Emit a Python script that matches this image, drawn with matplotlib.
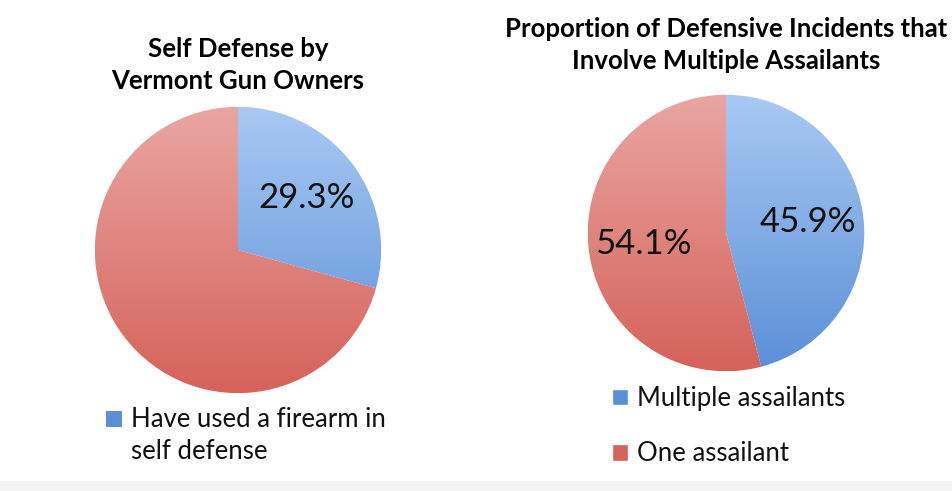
import numpy as np
import matplotlib
matplotlib.use("Agg")
from matplotlib import pyplot as plt
from matplotlib.colors import LinearSegmentedColormap
from matplotlib.patches import Rectangle
from matplotlib.legend_handler import HandlerPatch

plt.rcParams['font.family'] = ['Lato', 'DejaVu Sans']

# data
left_title = "Self Defense by\nVermont Gun Owners"
left_labels = ["Have used a firearm in\nself defense", "Have not"]
left_values = [29.3, 70.7]

right_title = "Proportion of Defensive Incidents that\nInvolve Multiple Assailants"
right_labels = ["Multiple assailants", "One assailant"]
right_values = [45.9, 54.1]

# colours (top of pie -> bottom of pie)
blue_top, blue_bot = "#a9c9f3", "#5a8fd7"
red_top, red_bot = "#eaa6a2", "#d5625b"

LEG_FS = 18.5
TITLE_FS = 18.5

fig = plt.figure(figsize=(9.53, 4.91), dpi=100)
fig.patches.append(Rectangle((0, 0), 1, 10 / 491, transform=fig.transFigure,
                             facecolor="#f3f3f3", edgecolor="none", zorder=0))


def gradient_pie(ax, values, show_pct):
    wedges, texts, autotexts = ax.pie(
        values, startangle=90, counterclock=False,
        colors=[blue_bot, red_bot], autopct="%.1f%%", pctdistance=0.6,
        wedgeprops=dict(edgecolor="white", linewidth=1.0),
        textprops=dict(fontsize=25, color="#111111"))
    grad = np.linspace(0, 1, 256).reshape(-1, 1)[::-1]
    for w, (c1, c2) in zip(wedges, [(blue_bot, blue_top), (red_bot, red_top)]):
        cmap = LinearSegmentedColormap.from_list("g", [c1, c2])
        im = ax.imshow(grad, cmap=cmap, extent=(-1, 1, -1, 1),
                       aspect="auto", zorder=w.get_zorder() + 0.1, origin="upper")
        im.set_clip_path(w)
    for t, show in zip(autotexts, show_pct):
        t.set_zorder(5)
        t.set_visible(show)
    ax.set_xlim(-1.02, 1.02)
    ax.set_ylim(-1.02, 1.02)
    ax.set_aspect("equal")
    ax.axis("off")
    return wedges


class TopPatch(HandlerPatch):
    # put the square next to the first line of a two-line label
    def create_artists(self, legend, orig_handle, xdescent, ydescent,
                       width, height, fontsize, trans):
        shift = 1.35 * fontsize / 2
        p = Rectangle((-xdescent, -ydescent + shift), width, height,
                      facecolor=orig_handle.get_facecolor(), edgecolor="none",
                      transform=trans)
        return [p]


# left pie
ax1 = fig.add_axes([92 / 953, (491 - 396) / 491, 292 / 953, 292 / 491])
w1 = gradient_pie(ax1, left_values, [True, False])
fig.text(238 / 953, 1 - 65 / 491, left_title, ha="center", va="center",
         fontsize=TITLE_FS, fontweight="bold", linespacing=1.4, color="black")
leg1 = fig.legend([w1[0]], [left_labels[0]], loc="upper left",
                  bbox_to_anchor=(83 / 953, 1 - 384 / 491), frameon=False,
                  fontsize=LEG_FS, handlelength=0.6, handleheight=0.6,
                  handletextpad=0.35, handler_map={w1[0]: TopPatch()})
for t in leg1.get_texts():
    t.set_linespacing(1.35)
    t.set_color("#111111")

# right pie
ax2 = fig.add_axes([585 / 953, (491 - 374) / 491, 282 / 953, 282 / 491])
w2 = gradient_pie(ax2, right_values, [True, True])
fig.text(726 / 953, 1 - 45 / 491, right_title, ha="center", va="center",
         fontsize=TITLE_FS, fontweight="bold", linespacing=1.4, color="black")
leg2 = fig.legend(w2, right_labels, loc="upper left",
                  bbox_to_anchor=(589 / 953, 1 - 363 / 491), frameon=False,
                  fontsize=LEG_FS, handlelength=0.6, handleheight=0.6,
                  handletextpad=0.35, labelspacing=1.18)
for t in leg2.get_texts():
    t.set_color("#111111")

fig.savefig("out.png", dpi=100)
